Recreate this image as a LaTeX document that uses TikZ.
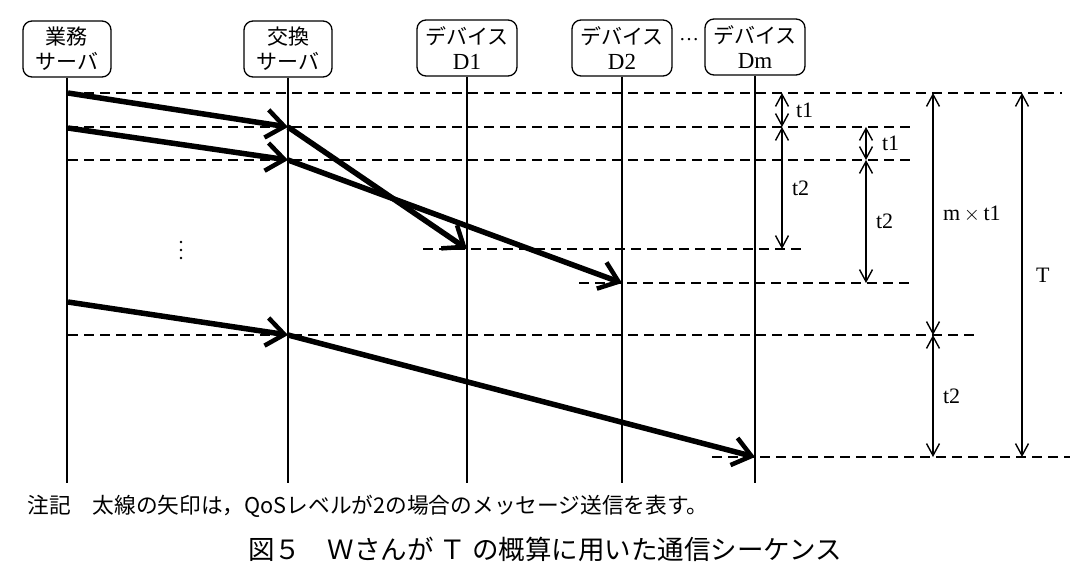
\documentclass[tikz,border=0pt]{standalone}
\usepackage{fontspec}
\setmainfont{Liberation Serif}
\newfontfamily\jp{Noto Sans CJK JP}
\usetikzlibrary{arrows.meta}

\tikzset{
  box/.style = {draw, line width=1.3pt, rounded corners=9pt, align=center, inner sep=0pt,
                minimum width=88pt, minimum height=56pt, font=\jp\fontsize{21}{25}\selectfont},
  devbox/.style = {box, minimum width=100pt},
  life/.style = {line width=1.3pt},
  guide/.style = {line width=1.8pt, dash pattern=on 10pt off 6pt},
  msg/.style = {line width=5.5pt, -{Straight Barb[length=18pt, width=28pt, line width=4.5pt]}},
  dim/.style = {line width=1.4pt, {Straight Barb[length=12pt, width=13pt]}-{Straight Barb[length=12pt, width=13pt]}},
  lab/.style = {anchor=west, xshift=6pt, font=\fontsize{22}{24}\selectfont}
}
\newcommand\latin{\rmfamily\fontsize{23}{25}\selectfont}

\begin{document}
\begin{tikzpicture}[x=1pt, y=-1pt]
\useasboundingbox (0,0) rectangle (1087,586);

\node[box] (gyomu) at (67,49) {業務\\サーバ};
\node[box] (koukan) at (288,49) {交換\\サーバ};
\node[devbox] (dev1) at (467,48) {デバイス\\\latin D1};
\node[devbox] (dev2) at (622,48) {デバイス\\\latin D2};
\node[devbox] (devm) at (755,47) {デバイス\\\latin Dm};
\node[font=\fontsize{20}{22}\selectfont] (hdots) at (689,40) {\ldots};

\coordinate (bottom) at (0,483);
\foreach \n in {gyomu,koukan,dev1,dev2,devm}
  \draw[life] (\n.south) -- (\n |- bottom);

\coordinate (s1) at (68,93);
\coordinate (r1) at (288,127);
\coordinate (s2) at (68,128);
\coordinate (r2) at (288,160);
\coordinate (a1) at (467,249);
\coordinate (a2) at (622,283);
\coordinate (s3) at (68,302);
\coordinate (r3) at (288,335);
\coordinate (am) at (755,457);

\coordinate (g1) at (1062,93);
\coordinate (g2a) at (68,127);
\coordinate (g2) at (912,127);
\coordinate (g3a) at (68,160);
\coordinate (g3) at (912,160);
\coordinate (g4a) at (423,249);
\coordinate (g4) at (803,249);
\coordinate (g5a) at (579,283);
\coordinate (g5) at (912,283);
\coordinate (g6a) at (68,335);
\coordinate (g6) at (976,335);
\coordinate (g7a) at (712,457);
\coordinate (g7) at (1070,457);

\draw[guide] (s1) -- (g1);
\draw[guide] (g2a) -- (g2);
\draw[guide] (g3a) -- (g3);
\draw[guide] (g4a) -- (g4);
\draw[guide] (g5a) -- (g5);
\draw[guide] (g6a) -- (g6);
\draw[guide] (g7a) -- (g7);

\draw[msg] (s1) -- (r1);
\draw[msg] (s2) -- (r2);
\draw[msg] (r1) -- (a1);
\draw[msg] (r2) -- (a2);
\draw[msg] (s3) -- (r3);
\draw[msg] (r3) -- (am);

\foreach \y in {242,250,258}
  \fill (181,\y) circle (1.4pt);

\coordinate (m1) at (782,0);
\coordinate (m2) at (866,0);
\coordinate (m3) at (933,0);
\coordinate (m4) at (1022,0);

\draw[dim] (m1 |- s1) -- (m1 |- r1) node[lab, midway, xshift=4pt] (l1) {t1};
\draw[dim] (m1 |- r1) -- (m1 |- a1) node[lab, midway] (l2) {t2};
\draw[dim] (m2 |- r1) -- (m2 |- r2) node[lab, midway, xshift=6pt] (l3) {t1};
\draw[dim] (m2 |- r2) -- (m2 |- a2) node[lab, midway] (l4) {t2};
\draw[dim] (m3 |- s1) -- (m3 |- r3) node[lab, midway] (l5) {m\,$\times$\,t1};
\draw[dim] (m3 |- r3) -- (m3 |- am) node[lab, midway] (l6) {t2};
\draw[dim] (m4 |- s1) -- (m4 |- am) node[lab, midway, xshift=4pt] (l7) {T};

\node[anchor=west, font=\jp\fontsize{21.7}{24}\selectfont] (note) at (24,506)
  {注記\quad 太線の矢印は，QoSレベルが2の場合のメッセージ送信を表す。};
\node[font=\jp\fontsize{26.5}{30}\selectfont] (title) at (545,549)
  {図５　Ｗさんが Ｔ の概算に用いた通信シーケンス};
\end{tikzpicture}
\end{document}
